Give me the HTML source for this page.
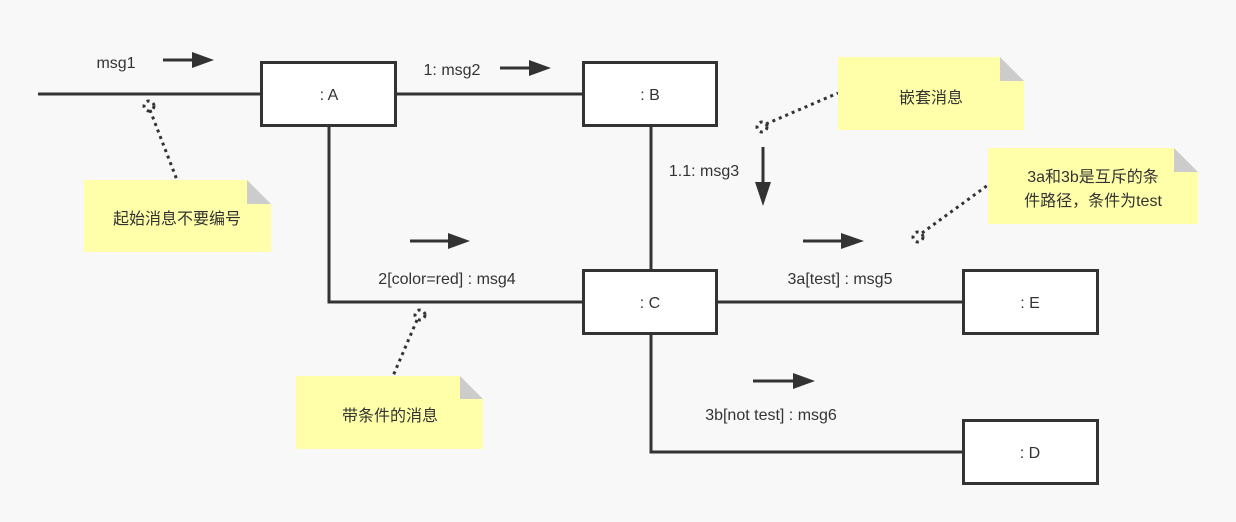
<!DOCTYPE html>
<html><head><meta charset="utf-8"><style>
html,body{margin:0;padding:0;background:#f8f8f8;}
svg{display:block;}
text{font-family:"Liberation Sans","Noto Sans CJK SC",sans-serif;font-size:16px;fill:#333;}
</style></head><body>
<svg width="1236" height="522" viewBox="0 0 1236 522" xmlns="http://www.w3.org/2000/svg">
<rect width="1236" height="522" fill="#f8f8f8"/>
<g stroke="#333" stroke-width="3" fill="none">
<line x1="38" y1="94" x2="261" y2="94"/>
<line x1="396" y1="94" x2="583" y2="94"/>
<polyline points="329,126 329,302 583,302"/>
<line x1="651" y1="126" x2="651" y2="270"/>
<line x1="717" y1="302" x2="963" y2="302"/>
<polyline points="651,334 651,452 963,452"/>
</g>
<g stroke="#333" stroke-width="3" fill="#fff">
<rect x="261.5" y="62.5" width="134" height="63"/>
<rect x="583.5" y="62.5" width="133" height="63"/>
<rect x="583.5" y="270.5" width="133" height="63"/>
<rect x="963.5" y="270.5" width="134" height="63"/>
<rect x="963.5" y="420.5" width="134" height="63"/>
</g>
<g text-anchor="middle">
<text x="329" y="100">:  A</text>
<text x="650" y="100">:  B</text>
<text x="650" y="308">:  C</text>
<text x="1030" y="308">:  E</text>
<text x="1030" y="458">:  D</text>
</g>
<!-- arrows -->
<g stroke="#333" stroke-width="3">
<line x1="163" y1="60" x2="195" y2="60"/>
<line x1="500" y1="68" x2="532" y2="68"/>
<line x1="763" y1="147" x2="763" y2="185"/>
<line x1="410" y1="241" x2="450" y2="241"/>
<line x1="803" y1="241" x2="843" y2="241"/>
<line x1="753" y1="381" x2="795" y2="381"/>
</g>
<g fill="#333">
<polygon points="192,52 214,60 192,68"/>
<polygon points="529,60 551,68 529,76"/>
<polygon points="755,182 763,206 771,182"/>
<polygon points="448,233 470,241 448,249"/>
<polygon points="841,233 864,241 841,249"/>
<polygon points="793,373 815,381 793,389"/>
</g>
<g>
<text x="116" y="68" text-anchor="middle">msg1</text>
<text x="452" y="75" text-anchor="middle">1: msg2</text>
<text x="704" y="176" text-anchor="middle">1.1: msg3</text>
<text x="447" y="284" text-anchor="middle">2[color=red] : msg4</text>
<text x="840" y="284" text-anchor="middle">3a[test] : msg5</text>
<text x="771" y="420" text-anchor="middle">3b[not test] : msg6</text>
</g>
<!-- dotted connectors -->
<g stroke="#333" stroke-width="3" stroke-dasharray="3,4" fill="none">
<line x1="150" y1="110" x2="177" y2="180"/>
<circle cx="149" cy="106" r="5"/>
<line x1="766" y1="124" x2="838" y2="93"/>
<circle cx="762" cy="127" r="5"/>
<line x1="922" y1="233" x2="988" y2="185"/>
<circle cx="918" cy="237" r="5"/>
<line x1="417" y1="320" x2="393" y2="376"/>
<circle cx="420" cy="315" r="5"/>
</g>
<!-- notes -->
<g>
<polygon points="84,180 247,180 271,204 271,252 84,252" fill="#ffffaa"/>
<polygon points="247,180 271,204 247,204" fill="#cccccc"/>
<text x="177" y="224" text-anchor="middle">起始消息不要编号</text>

<polygon points="838,57 1000,57 1024,81 1024,130 838,130" fill="#ffffaa"/>
<polygon points="1000,57 1024,81 1000,81" fill="#cccccc"/>
<text x="931" y="103" text-anchor="middle">嵌套消息</text>

<polygon points="988,148 1174,148 1198,172 1198,224 988,224" fill="#ffffaa"/>
<polygon points="1174,148 1198,172 1174,172" fill="#cccccc"/>
<text x="1093" y="182" text-anchor="middle">3a和3b是互斥的条</text>
<text x="1093" y="206" text-anchor="middle">件路径，条件为test</text>

<polygon points="296,376 460,376 483,399 483,449 296,449" fill="#ffffaa"/>
<polygon points="460,376 483,399 460,399" fill="#cccccc"/>
<text x="390" y="421" text-anchor="middle">带条件的消息</text>
</g>
</svg>
</body></html>
